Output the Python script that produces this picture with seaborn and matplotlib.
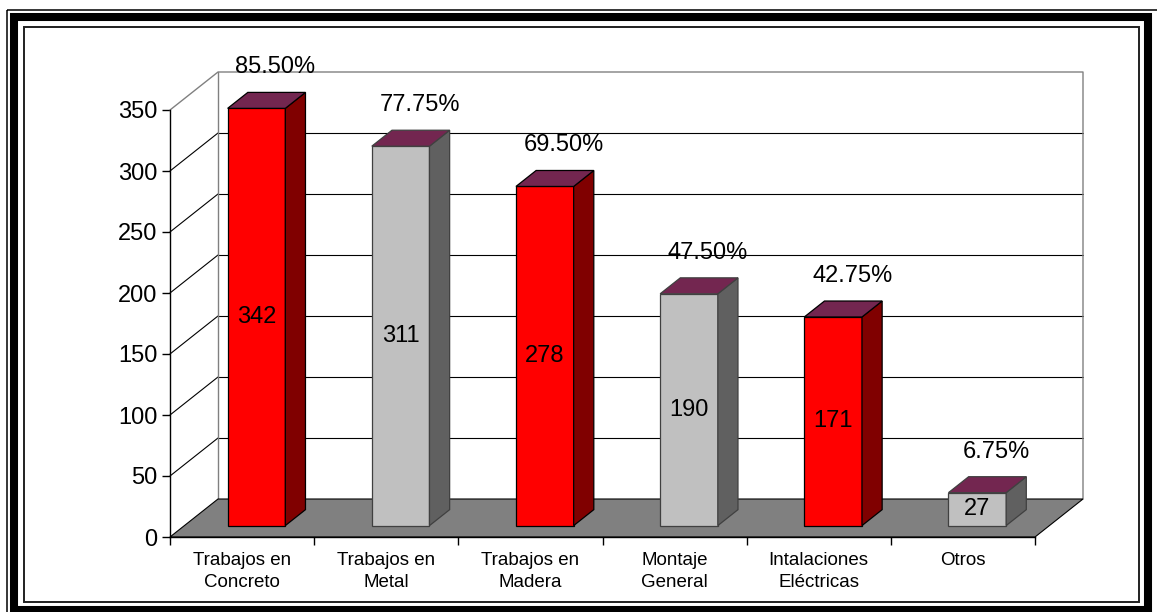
import matplotlib.pyplot as plt
import matplotlib.patches as mpatches
import numpy as np
import pandas as pd
import seaborn as sns

# datos del grafico
categorias = ['Trabajos en\nConcreto', 'Trabajos en\nMetal', 'Trabajos en\nMadera',
              'Montaje\nGeneral', 'Intalaciones\nEléctricas', 'Otros']
cantidades = [342, 311, 278, 190, 171, 27]
porcentajes = ['85.50%', '77.75%', '69.50%', '47.50%', '42.75%', '6.75%']
y_ticks = [0, 50, 100, 150, 200, 250, 300, 350]

# colores (frente, lado) alternando rojo / gris
frente = ['#FF0000', '#C0C0C0'] * 3
lado = ['#800000', '#606060'] * 3
techo = '#732650'

df = pd.DataFrame({'categoria': categorias, 'cantidad': cantidades})

sns.set_style('white')
plt.rcParams['font.family'] = ['Liberation Sans', 'DejaVu Sans']
plt.rcParams['text.color'] = 'black'
plt.rcParams['xtick.color'] = 'black'
plt.rcParams['ytick.color'] = 'black'

W, H = 1157, 612
fig = plt.figure(figsize=(W / 100, H / 100), dpi=100)

# marco doble alrededor de la figura
marco = fig.add_axes([0, 0, 1, 1])
marco.set_xlim(0, W)
marco.set_ylim(H, 0)
marco.axis('off')
marco.add_patch(mpatches.Rectangle((6.5, 10), W, H, fill=False, lw=1.1, ec='black'))
marco.add_patch(mpatches.Rectangle((14, 17), 1134, 593, fill=False, lw=5.8, ec='black'))
marco.add_patch(mpatches.Rectangle((23.5, 26.5), 1115.5, 575, fill=False, lw=1.4, ec='#202020'))

# ejes principales = plano frontal
x0_px, y0_px, x1_px, y1_px = 170, 537, 1035, 110
ax = fig.add_axes([x0_px / W, (H - y0_px) / H, (x1_px - x0_px) / W, (y0_px - y1_px) / H])
ax.patch.set_visible(False)

sns.barplot(data=df, x='categoria', y='cantidad', hue='categoria', palette=frente,
            saturation=1, width=0.4, legend=False, edgecolor='black', linewidth=0.9,
            ax=ax, zorder=3)
ax.set_xlim(-0.5, 5.5)
ax.set_ylim(0, 350)

# profundidad (oblicua) en unidades de datos
px_cat = (x1_px - x0_px) / 6
px_val = (y0_px - y1_px) / 350
DX = 48 / px_cat
DY = 38 / px_val
f1, f2 = 0.30, 0.72
d = f2 - f1

# pared del fondo
xl, xr = -0.5 + DX, 5.5 + DX
ax.add_patch(mpatches.Rectangle((xl, DY), xr - xl, 350, fc='white', ec='none',
                                zorder=0.5, clip_on=False))
for t in y_ticks[1:-1]:
    ax.plot([xl, xr], [t + DY, t + DY], color='black', lw=0.8, zorder=0.6, clip_on=False)
    ax.plot([-0.5, xl], [t, t + DY], color='black', lw=0.8, zorder=0.6, clip_on=False)
ax.plot([-0.5, xl, xr, xr], [350, 350 + DY, 350 + DY, DY], color='#808080', lw=1,
        zorder=0.6, clip_on=False)
ax.plot([xl, xl], [DY, 350 + DY], color='#808080', lw=1, zorder=0.6, clip_on=False)

# piso
ax.add_patch(mpatches.Polygon([(-0.5, 0), (5.5, 0), (xr, DY), (xl, DY)], closed=True,
                              fc='#808080', ec='black', lw=0.8, zorder=1, clip_on=False))

# barras 3D: se desplazan al plano medio y se agregan lado y techo
barras = [p for p in ax.patches if isinstance(p, mpatches.Rectangle) and p.get_width() < 1]
barras = sorted(barras, key=lambda p: p.get_x())[:len(cantidades)]
for i, p in enumerate(barras):
    bx = p.get_x() + f1 * DX
    by = f1 * DY
    w, h = p.get_width(), p.get_height()
    p.set_x(bx)
    p.set_y(by)
    p.set_clip_on(False)
    ec = 'black' if i % 2 == 0 else '#404040'
    p.set_edgecolor(ec)
    ax.add_patch(mpatches.Polygon(
        [(bx + w, by), (bx + w + d * DX, by + d * DY), (bx + w + d * DX, by + h + d * DY), (bx + w, by + h)],
        closed=True, fc=lado[i], ec=ec, lw=0.9, zorder=3, clip_on=False))
    ax.add_patch(mpatches.Polygon(
        [(bx, by + h), (bx + w, by + h), (bx + w + d * DX, by + h + d * DY), (bx + d * DX, by + h + d * DY)],
        closed=True, fc=techo, ec=ec, lw=0.9, zorder=3, clip_on=False))
    ax.text(bx + w / 2, by + h / 2, str(cantidades[i]), ha='center', va='center',
            fontsize=17, zorder=4)
    ax.text(bx + w / 2 + 19 / px_cat, by + h + d * DY + 25 / px_val, porcentajes[i],
            ha='center', va='center', fontsize=17, zorder=4)

# ejes
for s in ['top', 'right']:
    ax.spines[s].set_visible(False)
for s in ['left', 'bottom']:
    ax.spines[s].set_color('black')
    ax.spines[s].set_linewidth(1)
    ax.spines[s].set_zorder(2)
ax.set_yticks(y_ticks)
ax.tick_params(axis='y', left=True, length=6, width=1, pad=3, labelsize=17, color='black')
ax.set_xticks(np.arange(-0.5, 6, 1))
ax.set_xticklabels([])
ax.tick_params(axis='x', which='major', bottom=True, length=6, width=1, color='black')
ax.set_xticks(range(len(categorias)), minor=True)
ax.set_xticklabels(categorias, minor=True, fontsize=13.5, linespacing=1.35)
ax.tick_params(axis='x', which='minor', length=0, pad=11)
ax.set_xlabel('')
ax.set_ylabel('')

fig.savefig('out.png', dpi=100)
